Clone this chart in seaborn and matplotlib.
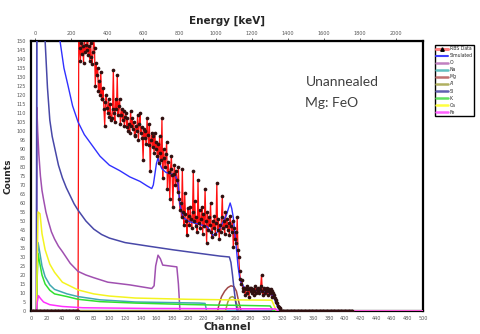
import matplotlib
matplotlib.use("Agg")
import matplotlib.pyplot as plt
import seaborn as sns
from matplotlib.lines import Line2D

# measured RBS spectrum (counts per channel)
data_low = [0] * 61  # channels 0-60
data_mid = [
    170, 146, 139, 149, 143, 147, 138, 153, 144, 148,
    145, 158, 142, 147, 139, 149, 141, 137, 144, 151,
    146, 125, 138, 131, 135, 122, 128, 120, 133, 118,
    118, 124, 112, 103, 116, 120, 113, 110, 118, 108,
    115, 106, 107, 112, 134, 110, 105, 118, 112, 131,
    109, 114, 118, 104, 109, 112, 106, 111, 103, 108,
    110, 102, 107, 100, 104, 99, 111, 103, 107, 101,
    105, 97, 98, 103, 100, 109, 95, 104, 110, 99,
    102, 96, 84, 101, 96, 100, 93, 107, 98, 92,
    104, 78, 95, 99, 91, 97, 88, 99, 90, 94,
    86, 93, 82, 97, 88, 84, 107, 74, 90, 85,
    80, 87, 94, 68, 83, 77, 62, 79, 86, 75.5,
    58, 76, 81, 70, 78, 73, 66, 80, 62, 56,
    60, 52, 79, 55, 48, 65.5, 54, 50, 42, 57,
    53, 48, 58, 51, 46, 55, 78, 50, 61, 47,
    52, 44, 73, 49, 56, 46, 51, 58, 43, 54,
    47, 68, 50, 38, 55, 45, 52, 48, 60, 44,
    41, 50, 46, 53, 43, 49, 71, 45, 51, 40,
    48, 44, 52, 64, 46, 50, 43, 55, 47, 51,
    45, 49, 42, 53, 47, 44, 50, 35.5, 46, 40,
    44, 38, 52, 34, 30, 22, 18, 15, 17, 13,
    11, 13, 9, 12, 14, 10, 12, 8, 12.8, 11,
    13, 10, 12, 9, 11, 14, 10, 12, 11, 13,
    10, 12, 14, 20, 11, 9, 13, 12, 10, 11,
    13, 9, 12, 11, 10, 12, 8, 11, 10, 9,
    7, 6, 5, 4.4, 3, 2, 1, 1.7, 0, 0,
]
data_high = [0] * 90  # channels 321-410
data_counts = data_low + data_mid + data_high
data_ch = list(range(len(data_counts)))

# simulated total
sim_ch = [0, 7, 8, 15, 20, 25, 30, 33, 37, 42, 47, 53, 60, 68, 78, 88, 100, 113, 126, 139, 148,
          154, 156, 158, 160, 162, 164, 167, 172, 184, 187.5, 190, 194, 200, 207, 224, 228, 232,
          236, 241, 249, 254, 256, 258, 261.5, 264, 266.6, 272, 279, 301, 305, 309, 312, 315, 319, 500]
sim_counts = [0, 0, 480, 470, 294, 222, 182, 166, 150, 135, 125.6, 114, 105, 98, 92, 86, 81, 78,
              74.5, 72, 69.5, 68, 70, 76, 82, 85, 82, 79, 77, 75.5, 71, 59, 52, 50, 49, 47, 45, 42,
              43, 46, 53, 60, 57, 52, 37, 25, 17, 13, 11.7, 10.5, 10, 8, 5, 1.7, 0, 0]

# element contributions
o_ch = [0, 7, 7.5, 8.5, 10, 12, 14, 16, 19, 22, 26, 30, 35, 40, 50, 60, 70, 80, 98, 126, 154,
        157, 159, 162, 165, 168, 186, 188, 190, 500]
o_counts = [0, 0, 113, 100, 87, 75, 67, 62, 55, 50, 44, 40, 36, 33, 26.5, 22, 20, 18.5, 16,
            14.5, 12.5, 14, 25, 31, 29, 25.5, 24.5, 15, 0, 0]

na_ch = [0, 7, 8, 9, 11, 14, 18, 24, 30, 46, 60, 88, 133, 215, 222, 224, 500]
na_counts = [0, 0, 25, 38, 33, 25, 19, 14.5, 12, 9.5, 8, 6.2, 5, 4.4, 4.2, 0, 0]

mg_ch = [0, 238, 240, 243, 247, 251, 255, 259, 262, 265, 268, 500]
mg_counts = [0, 0, 4, 8, 11, 13, 14, 13.5, 11, 5, 0, 0]

al_ch = [0, 248, 251, 254, 257, 260, 263, 265, 500]
al_counts = [0, 0, 5, 7.5, 8, 7, 3, 0, 0]

si_ch = [0, 7, 8, 12, 15, 18, 21, 24, 27, 31, 35, 40, 45, 50, 55, 60, 70, 80, 90, 100, 120, 150,
         181, 215, 241, 253, 255, 257, 259, 261, 263, 500]
si_counts = [0, 0, 450, 300, 200, 150, 124, 106, 97, 89, 81, 74, 68.5, 64, 59.5, 56, 50, 45.5,
             42.5, 40.5, 38, 36, 34, 32, 30.5, 30, 27, 20, 12, 5, 0, 0]

k_ch = [0, 7, 8, 9, 11, 14, 18, 24, 30, 46, 60, 88, 133, 200, 233, 270, 305, 309, 500]
k_counts = [0, 0, 20, 32, 27, 20, 15, 11.5, 9.5, 8, 6.5, 5.2, 4.4, 3.6, 3.3, 3.1, 2.8, 0, 0]

ca_ch = [0, 7, 8, 9, 11.5, 14, 18, 24, 30, 40, 60, 80, 100, 133, 200, 250, 307, 310, 313, 500]
ca_counts = [0, 0, 30, 55, 54, 43, 34, 26, 21.5, 16, 11.7, 9.5, 8.3, 7.2, 6.5, 6.2, 6, 3, 0, 0]

fe_ch = [0, 7, 8, 9.5, 12, 16, 24, 40, 66, 150, 300, 312, 315, 500]
fe_counts = [0, 0, 5, 8.5, 7, 5, 3.5, 2.5, 1.8, 1.4, 1.2, 1.1, 0, 0]

legend_labels = ["RBS Data", "Simulated", "O", "Na", "Mg", "Al", "Si", "K", "Ca", "Fe"]

elements = [
    (o_ch, o_counts, "#a050b0"),
    (na_ch, na_counts, "#40a8b0"),
    (mg_ch, mg_counts, "#a04848"),
    (al_ch, al_counts, "#a0a040"),
    (si_ch, si_counts, "#4848a8"),
    (k_ch, k_counts, "#30e030"),
    (ca_ch, ca_counts, "#f4f420"),
    (fe_ch, fe_counts, "#ff30ff"),
]

sns.set_style("white")
fig = plt.figure(figsize=(4.8, 3.34), dpi=100)
ax = fig.add_axes([0.0646, 0.0689, 0.8167, 0.8084])

sns.lineplot(x=data_ch, y=data_counts, sort=False, estimator=None, color="#ff1010", lw=0.9, ax=ax, zorder=2)
sns.lineplot(x=sim_ch, y=sim_counts, sort=False, estimator=None, color="#3030ff", lw=1.0, ax=ax, zorder=3)
for xs, ys, c in elements:
    sns.lineplot(x=xs, y=ys, sort=False, estimator=None, color=c, lw=1.1, ax=ax, zorder=3)
sns.scatterplot(x=data_ch, y=data_counts, color="#301010", s=7, linewidth=0, ax=ax, zorder=4)

ax.set_xlim(0, 500)
ax.set_ylim(0, 150)
ax.set_xticks(range(0, 501, 20))
ax.set_yticks(range(0, 151, 5))
ax.tick_params(labelsize=3.5, labelcolor="#555555", length=2, width=0.5, pad=1.5)
for s in ax.spines.values():
    s.set_linewidth(1.6)
    s.set_color("black")
ax.set_xlabel("Channel", fontsize=7.5, fontweight="bold", labelpad=1)
ax.set_ylabel("Counts", fontsize=6.5, fontweight="bold", labelpad=3)

# energy scale on top
top = ax.secondary_xaxis("top", functions=(lambda c: 4.343 * (c - 5.1), lambda e: e / 4.343 + 5.1))
top.set_xticks(range(0, 2001, 200))
top.tick_params(labelsize=3.5, labelcolor="#555555", length=2, width=0.5, pad=1.5)
top.set_xlabel("Energy [keV]", fontsize=7.5, fontweight="bold", labelpad=5)

ax.text(0.70, 0.848, "Unannealed", transform=ax.transAxes, fontsize=10, color="#404040",
        family="Lato", va="center")
ax.text(0.70, 0.77, "Mg: FeO", transform=ax.transAxes, fontsize=10, color="#404040",
        family="Lato", va="center")

handles = [Line2D([0], [0], color="#ff8080", lw=2.2, marker="^", markersize=2.5,
                  markerfacecolor="black", markeredgecolor="black"),
           Line2D([0], [0], color="#4040ff", lw=1.5)]
leg_colors = ["#c080c0", "#60c0c0", "#c07070", "#b0b060", "#6060b0", "#60e060", "#ffff40", "#ff60ff"]
for c in leg_colors:
    handles.append(Line2D([0], [0], color=c, lw=1.8))
fig.legend(handles, legend_labels, loc="upper left", bbox_to_anchor=(0.906, 0.866), fontsize=3.3,
           labelspacing=0.45, handlelength=2.6, handletextpad=0.3, borderpad=0.3, borderaxespad=0,
           frameon=True, fancybox=False, edgecolor="black", framealpha=1)

fig.savefig("out.png", dpi=100)
